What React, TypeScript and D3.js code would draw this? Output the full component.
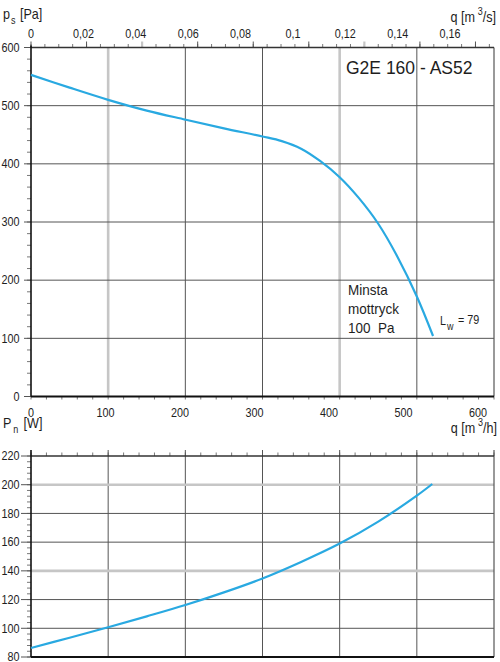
import React from "react";
import * as d3 from "d3";

// ---- data ----
const qPs = [0, 50, 100, 150, 200, 250, 300, 325, 350, 375, 400, 425, 450, 475, 500, 521];
const psVals = [553, 531, 510, 491.5, 476, 461, 447, 439, 426, 404.5, 377, 341, 297, 240, 172, 104];

const qPn = [0, 50, 100, 150, 200, 250, 300, 350, 400, 450, 500, 520];
const pnVals = [86.3, 93.4, 100.7, 108.3, 116.2, 125, 134.7, 146.2, 159, 174.3, 192.4, 200.5];

const qHTicks = [0, 100, 200, 300, 400, 500, 600];
const qSTicks = [0, 0.02, 0.04, 0.06, 0.08, 0.1, 0.12, 0.14, 0.16];
const qSLabels = ["0", "0,02", "0,04", "0,06", "0,08", "0,1", "0,12", "0,14", "0,16"];
const qSLightTicks = [0.04, 0.12];
const psTicks = [0, 100, 200, 300, 400, 500, 600];
const pnTicks = [80, 100, 120, 140, 160, 180, 200, 220];
const topVGridLight = [100, 400];
const botHGridLight = [140, 200];

const FONT = "'Liberation Sans', Arial, Helvetica, sans-serif";
const BLUE = "#29a9e1";
const DARK = "#555";
const LIGHT = "#c6c6c6";
const INK = "#1e1e1e";

function T(props: {
  x: number; y: number; size: number; anchor?: string; sx?: number; children: React.ReactNode; pre?: boolean;
}) {
  const { x, y, size, anchor = "start", sx = 0.9, children, pre } = props;
  return (
    <text transform={`translate(${x},${y}) scale(${sx},1)`} fontSize={size} textAnchor={anchor as any}
      fill={INK} style={pre ? { whiteSpace: "pre" } : undefined}>
      {children}
    </text>
  );
}

export default function App() {
  const W = 500, H = 662;
  const x = d3.scaleLinear().domain([0, 600]).range([31, 494]);
  const xLab = d3.scaleLinear().domain([0, 600]).range([31, 478]);
  const xS = (v: number) => x(v * 3600);
  const xSLab = d3.scaleLinear().domain([0, 0.16]).range([31, 450]);
  const yT = d3.scaleLinear().domain([0, 600]).range([396.5, 47.5]);
  const yB = d3.scaleLinear().domain([80, 220]).range([657, 456]);

  const psLine = d3.line<number>().x((d, i) => x(qPs[i])).y((d) => yT(d)).curve(d3.curveCatmullRom.alpha(0.5))(psVals) || "";
  const pnLine = d3.line<number>().x((d, i) => x(qPn[i])).y((d) => yB(d)).curve(d3.curveCatmullRom.alpha(0.5))(pnVals) || "";

  const minorQH = d3.range(0, 601, 20);
  const minorQS = d3.range(0, 0.166, 0.005);
  const minorPs = d3.range(0, 601, 20);
  const minorPn = d3.range(80, 221, 4);

  const x0 = x(0), x1 = x(600);

  return (
    <svg width={W} height={H} style={{ position: "absolute", left: 0, top: 0, background: "#fff" }} fontFamily={FONT}>
      <rect x={0} y={0} width={W} height={H} fill="#fff" />

      {/* ===== TOP CHART ===== */}
      {qHTicks.filter((v) => v > 0 && v < 600).map((v) => {
        const light = topVGridLight.includes(v);
        return (
          <line key={"tv" + v} x1={x(v)} x2={x(v)} y1={yT(600)} y2={yT(0)}
            stroke={light ? LIGHT : DARK} strokeWidth={light ? 2.6 : 1} />
        );
      })}
      {psTicks.filter((v) => v > 0).map((v) => (
        <line key={"th" + v} x1={x0} x2={x1} y1={yT(v)} y2={yT(v)} stroke={DARK} strokeWidth={1} />
      ))}
      <line x1={x1} x2={x1} y1={yT(600)} y2={yT(0)} stroke={DARK} strokeWidth={1.2} />
      {minorQS.map((v, i) => (
        <line key={"tqs" + i} x1={xS(v)} x2={xS(v)} y1={yT(600) - 3.5} y2={yT(600)} stroke={DARK} strokeWidth={0.8} />
      ))}
      {qSTicks.map((v) => {
        const light = qSLightTicks.includes(v);
        return (
          <line key={"tQS" + v} x1={xS(v)} x2={xS(v)} y1={yT(600) - 6} y2={yT(600)}
            stroke={light ? LIGHT : DARK} strokeWidth={light ? 2.2 : 1} />
        );
      })}
      {qSTicks.map((v, i) => (
        <T key={"lqs" + v} x={xSLab(v)} y={38} size={12} anchor="middle">{qSLabels[i]}</T>
      ))}
      {minorPs.map((v) => (
        <line key={"tps" + v} x1={27} x2={x0} y1={yT(v)} y2={yT(v)} stroke={DARK} strokeWidth={0.8} />
      ))}
      {psTicks.map((v) => (
        <line key={"tPS" + v} x1={24} x2={x0} y1={yT(v)} y2={yT(v)} stroke={DARK} strokeWidth={1} />
      ))}
      {psTicks.map((v) => (
        <T key={"lps" + v} x={19.5} y={yT(v) + 4.3} size={12} anchor="end">{v}</T>
      ))}
      {minorQH.map((v) => (
        <line key={"tqh" + v} x1={x(v)} x2={x(v)} y1={yT(0)} y2={yT(0) + 3} stroke={DARK} strokeWidth={0.8} />
      ))}
      {qHTicks.map((v) => (
        <T key={"lqh" + v} x={xLab(v)} y={417} size={12} anchor="middle">{v}</T>
      ))}
      <line x1={x0} x2={x1} y1={yT(600)} y2={yT(600)} stroke="#333" strokeWidth={1.3} />
      <line x1={x0} x2={x1} y1={yT(0)} y2={yT(0)} stroke="#111" strokeWidth={1.8} />
      <line x1={x0} x2={x0} y1={yT(600) - 2} y2={yT(0)} stroke="#111" strokeWidth={1.6} />

      <path d={psLine} fill="none" stroke={BLUE} strokeWidth={2.2} />

      <T x={3} y={19} size={14}>
        p<tspan fontSize={10} dy={5} dx={1}>s</tspan><tspan dy={-5} dx={5}>[Pa]</tspan>
      </T>
      <T x={496} y={22} size={14} anchor="end">
        q [m<tspan fontSize={10} dy={-7} dx={3}>3</tspan><tspan dy={7}>/s]</tspan>
      </T>
      <T x={346} y={74} size={17.5} sx={1.0}>G2E 160 - AS52</T>
      <T x={348} y={295} size={15}>Minsta</T>
      <T x={348} y={314} size={15}>mottryck</T>
      <T x={348} y={333} size={15} pre>100  Pa</T>
      <T x={440} y={325} size={12}>
        L<tspan fontSize={10} dy={5} dx={1}>w</tspan><tspan fontSize={12} dy={-6} dx={5}>= 79</tspan>
      </T>

      <T x={497} y={433} size={14} anchor="end">
        q [m<tspan fontSize={10} dy={-7} dx={3}>3</tspan><tspan dy={7}>/h]</tspan>
      </T>
      <T x={3} y={428} size={14}>
        P<tspan fontSize={10} dy={5} dx={2}>n</tspan><tspan dy={-5} dx={6}>[W]</tspan>
      </T>

      {/* ===== BOTTOM CHART ===== */}
      {qHTicks.filter((v) => v > 0 && v < 600).map((v) => (
        <line key={"bv" + v} x1={x(v)} x2={x(v)} y1={yB(220) - 6} y2={yB(80)} stroke={DARK} strokeWidth={1} />
      ))}
      {pnTicks.filter((v) => v > 80 && v < 220).map((v) => {
        const light = botHGridLight.includes(v);
        return (
          <line key={"bh" + v} x1={x0} x2={x1} y1={yB(v)} y2={yB(v)}
            stroke={light ? LIGHT : DARK} strokeWidth={light ? 2.6 : 1} />
        );
      })}
      <line x1={x1} x2={x1} y1={yB(220) - 6} y2={yB(80)} stroke={DARK} strokeWidth={1.2} />
      {minorQH.map((v) => (
        <line key={"bqh" + v} x1={x(v)} x2={x(v)} y1={yB(220) - 3.5} y2={yB(220)} stroke={DARK} strokeWidth={0.8} />
      ))}
      {minorPn.map((v) => (
        <line key={"bpn" + v} x1={27} x2={x0} y1={yB(v)} y2={yB(v)} stroke={DARK} strokeWidth={0.8} />
      ))}
      {pnTicks.map((v) => (
        <line key={"bPN" + v} x1={21} x2={x0} y1={yB(v)} y2={yB(v)} stroke={DARK} strokeWidth={1} />
      ))}
      {pnTicks.map((v) => (
        <T key={"lpn" + v} x={19.5} y={yB(v) + 4.3} size={12} anchor="end">{v}</T>
      ))}
      <line x1={x0} x2={x1} y1={yB(220)} y2={yB(220)} stroke="#333" strokeWidth={1.3} />
      <line x1={x0} x2={x1} y1={yB(80)} y2={yB(80)} stroke="#111" strokeWidth={1.8} />
      <line x1={x0} x2={x0} y1={yB(220) - 6} y2={yB(80)} stroke="#111" strokeWidth={1.6} />

      <path d={pnLine} fill="none" stroke={BLUE} strokeWidth={2.2} />
    </svg>
  );
}
